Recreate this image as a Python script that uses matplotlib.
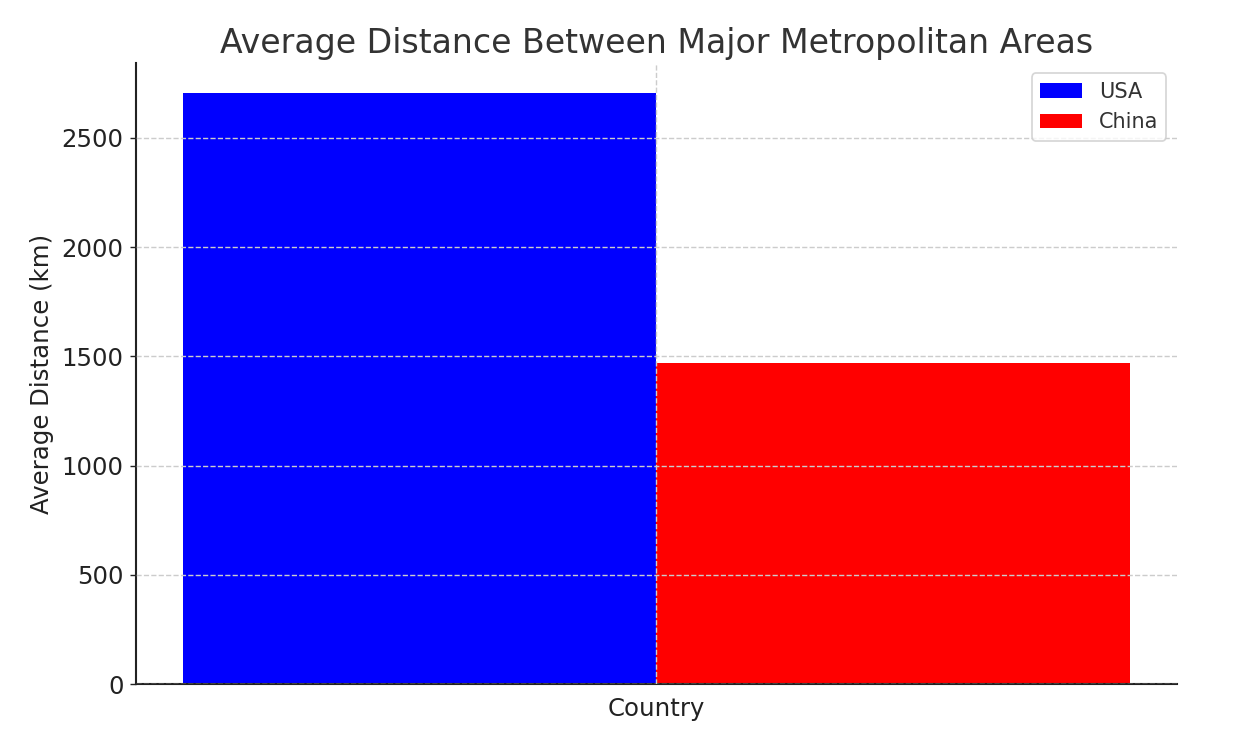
import matplotlib

matplotlib.use("Agg")
import matplotlib.pyplot as plt
import numpy as np

countries = ["USA", "China"]
avg_distance_km = [2706, 1470]
bar_colors = ["blue", "red"]

plt.rcParams["text.color"] = "#333333"
plt.rcParams["axes.labelcolor"] = "#222222"

fig = plt.figure(figsize=(10, 5.98), dpi=125.6)
ax = fig.add_axes([0.108, 0.089, 0.829, 0.827])

width = 0.35
x = np.arange(1)
for i, (name, val, col) in enumerate(zip(countries, avg_distance_km, bar_colors)):
    ax.bar(x + (i - 0.5) * width, [val], width, color=col, label=name, zorder=1)

ax.set_title("Average Distance Between Major Metropolitan Areas", fontsize=19, color="#333333")
ax.set_xlabel("Country", fontsize=14)
ax.set_ylabel("Average Distance (km)", fontsize=14)
ax.set_xticks(x)
ax.set_xticklabels([""])
ax.tick_params(axis="x", length=0)
ax.tick_params(axis="y", labelsize=14, colors="#222222")
ax.set_yticks([0, 500, 1000, 1500, 2000, 2500])

ax.grid(True, linestyle="--", color="#cccccc", linewidth=0.8, zorder=3)
ax.set_axisbelow(False)
for side in ["top", "right"]:
    ax.spines[side].set_visible(False)
for side in ["left", "bottom"]:
    ax.spines[side].set_color("#222222")
    ax.spines[side].set_linewidth(1.2)

leg = ax.legend(loc="upper right", fontsize=12)
leg.get_frame().set_edgecolor("#cccccc")

fig.savefig("out.png", dpi=125.6)
